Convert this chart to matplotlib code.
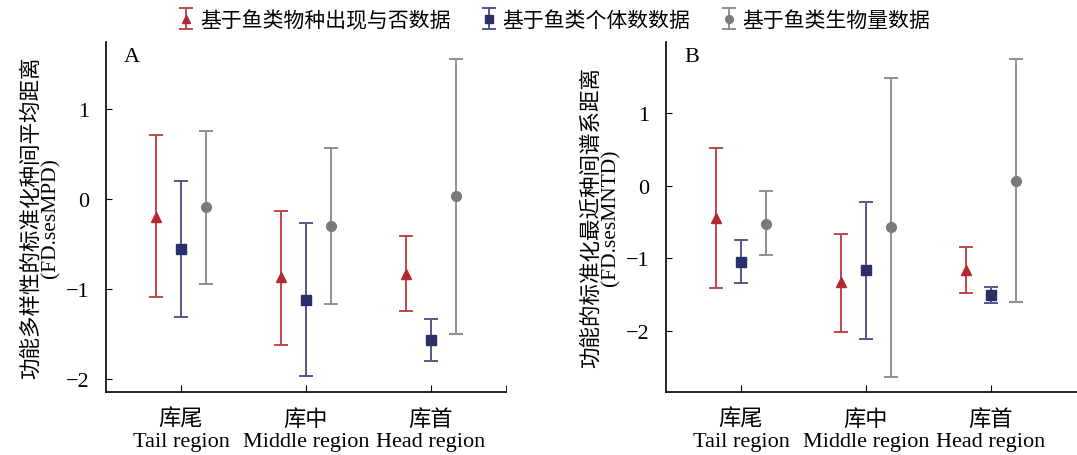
import matplotlib
matplotlib.use("Agg")
import matplotlib.pyplot as plt
import numpy as np

plt.rcParams['font.family'] = ['Liberation Serif', 'Noto Sans CJK SC']
plt.rcParams['axes.unicode_minus'] = True

regions = ["库尾\nTail region", "库中\nMiddle region", "库首\nHead region"]
series = ["基于鱼类物种出现与否数据", "基于鱼类个体数数据", "基于鱼类生物量数据"]

# panel A: FD.sesMPD  (mean, upper, lower) per region
a_pres = [-0.20, -0.87, -0.83]
a_pres_hi = [0.71, -0.13, -0.41]
a_pres_lo = [-1.09, -1.62, -1.24]
a_abun = [-0.56, -1.12, -1.57]
a_abun_hi = [0.20, -0.27, -1.33]
a_abun_lo = [-1.31, -1.97, -1.80]
a_bio = [-0.09, -0.30, 0.03]
a_bio_hi = [0.75, 0.57, 1.55]
a_bio_lo = [-0.94, -1.17, -1.50]

# panel B: FD.sesMNTD
b_pres = [-0.44, -1.33, -1.16]
b_pres_hi = [0.52, -0.67, -0.85]
b_pres_lo = [-1.41, -2.01, -1.48]
b_abun = [-1.05, -1.16, -1.50]
b_abun_hi = [-0.75, -0.23, -1.39]
b_abun_lo = [-1.34, -2.11, -1.62]
b_bio = [-0.52, -0.57, 0.07]
b_bio_hi = [-0.07, 1.48, 1.74]
b_bio_lo = [-0.96, -2.63, -1.60]

colors = ["#b22a2e", "#2c2e68", "#7a7a7a"]
ecolors = ["#c0484b", "#55578a", "#8f8f8f"]
markers = ["^", "s", "o"]
offsets = [-0.2, 0.0, 0.2]

fig = plt.figure(figsize=(10.77, 4.56), dpi=100)
axA = fig.add_axes([106/1077, 1-393/456, 400/1077, 350/456])
axB = fig.add_axes([666/1077, 1-393/456, 411/1077, 350/456])


def panel(ax, data, ylim, label, ylab):
    x = np.arange(1, 4)
    handles = []
    for k, (m, hi, lo) in enumerate(data):
        m = np.array(m); hi = np.array(hi); lo = np.array(lo)
        h = ax.errorbar(x + offsets[k], m, yerr=[m - lo, hi - m], fmt=markers[k],
                        color=colors[k], ecolor=ecolors[k], elinewidth=1.4,
                        capsize=5, capthick=1.4, markersize=7, label=series[k])
        handles.append(h)
    ax.set_xlim(0.4, 0.4 + ax.get_position().width * 1077 / 125)
    ax.set_ylim(*ylim)
    ax.set_xticks([1, 2, 3])
    ax.set_xticklabels(regions, fontsize=16, linespacing=1.15)
    ax.set_yticks([-2, -1, 0, 1])
    ax.tick_params(axis='y', direction='in', length=4, pad=12, labelsize=16)
    ax.tick_params(axis='x', direction='in', length=5, pad=12)
    for s in ['top', 'right']:
        ax.spines[s].set_visible(False)
    for s in ['left', 'bottom']:
        ax.spines[s].set_linewidth(1.2)
    ax.text(0.045, 0.985, label, transform=ax.transAxes, fontsize=16,
            va='top', ha='left')
    ax.set_ylabel(ylab, fontsize=15.5, linespacing=0.95, labelpad=4)
    return handles


hA = panel(axA, [(a_pres, a_pres_hi, a_pres_lo), (a_abun, a_abun_hi, a_abun_lo),
                 (a_bio, a_bio_hi, a_bio_lo)], (-2.144, 1.744), "A",
           "功能多样性的标准化种间平均距离\n(FD.sesMPD)")
panel(axB, [(b_pres, b_pres_hi, b_pres_lo), (b_abun, b_abun_hi, b_abun_lo),
            (b_bio, b_bio_hi, b_bio_lo)], (-2.84, 1.98), "B",
      "功能的标准化最近种间谱系距离\n(FD.sesMNTD)")
# small tick at right end of panel A x axis
axA.set_xticks([3.6], minor=True)
axA.tick_params(axis='x', which='minor', direction='in', length=5)

fig.legend(handles=hA, loc='center', bbox_to_anchor=(0.516, 0.952), ncol=3,
           frameon=False, fontsize=15, handlelength=0.5, handletextpad=0.4,
           columnspacing=1.6, markerscale=0.8)

plt.savefig("out.png", dpi=100)
